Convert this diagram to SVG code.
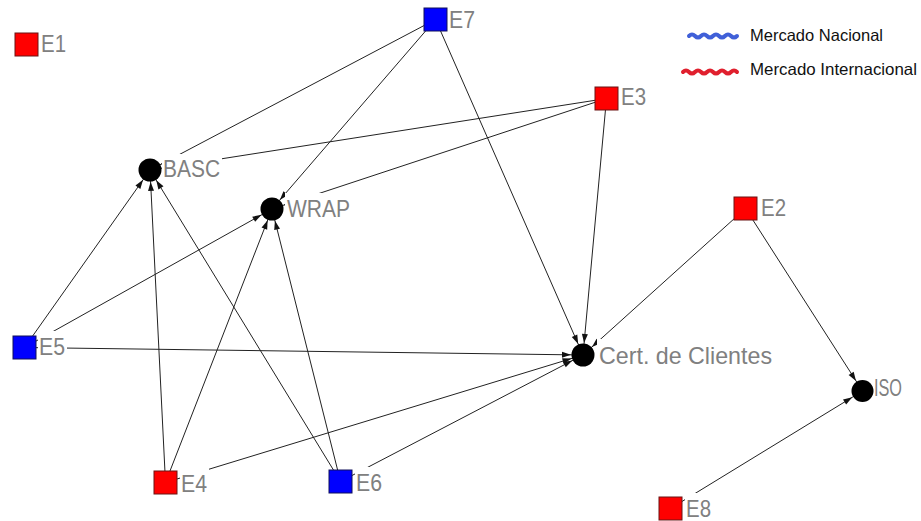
<svg xmlns="http://www.w3.org/2000/svg" width="921" height="521" viewBox="0 0 921 521">
<defs>
<marker id="arr" markerWidth="24" markerHeight="8" refX="21" refY="3" orient="auto" markerUnits="userSpaceOnUse" overflow="visible"><path d="M0,0 L9,3 L0,6 z" fill="#111"/></marker>
<style>
.e{stroke:#222;stroke-width:1;fill:none;marker-end:url(#arr)}
.bg{fill:#fff}
.red{fill:#ff0000;stroke:#6b1515;stroke-width:1}
.blue{fill:#0000ff;stroke:#10105a;stroke-width:1}
.c{fill:#000}
.t{font-family:"Liberation Sans",Arial,sans-serif;font-size:24px;fill:#808080}
.lg{font-family:"Liberation Sans",Arial,sans-serif;font-size:16.5px;fill:#111}
</style>
</defs>
<rect width="921" height="521" fill="#fff"/>
<g id="connectors">
<line class="e" x1="435.5" y1="19.5" x2="150" y2="170"/>
<line class="e" x1="435.5" y1="19.5" x2="272" y2="209"/>
<line class="e" x1="435.5" y1="19.5" x2="583" y2="355"/>
<line class="e" x1="606.5" y1="98.5" x2="150" y2="170"/>
<line class="e" x1="606.5" y1="98.5" x2="272" y2="209"/>
<line class="e" x1="606.5" y1="98.5" x2="583" y2="355"/>
<line class="e" x1="745.5" y1="208.5" x2="583" y2="355"/>
<line class="e" x1="745.5" y1="208.5" x2="862.5" y2="391"/>
<line class="e" x1="670.5" y1="508.5" x2="862.5" y2="391"/>
<line class="e" x1="24.5" y1="347.5" x2="150" y2="170"/>
<line class="e" x1="24.5" y1="347.5" x2="272" y2="209"/>
<line class="e" x1="24.5" y1="347.5" x2="583" y2="355"/>
<line class="e" x1="165.5" y1="482.5" x2="150" y2="170"/>
<line class="e" x1="165.5" y1="482.5" x2="272" y2="209"/>
<line class="e" x1="165.5" y1="482.5" x2="583" y2="355"/>
<line class="e" x1="340.5" y1="481.5" x2="150" y2="170"/>
<line class="e" x1="340.5" y1="481.5" x2="272" y2="209"/>
<line class="e" x1="340.5" y1="481.5" x2="583" y2="355"/>
</g>
<g id="E1"><rect class="bg" x="40" y="28" width="28" height="30"/><rect class="red" x="15" y="33" width="23" height="23"/><text class="t" x="41" y="52" textLength="25" lengthAdjust="spacingAndGlyphs">E1</text></g>
<g id="E7"><rect class="bg" x="448" y="4" width="29" height="30"/><rect class="blue" x="424" y="8" width="23" height="23"/><text class="t" x="449" y="28" textLength="26" lengthAdjust="spacingAndGlyphs">E7</text></g>
<g id="E3"><rect class="bg" x="620" y="81" width="28" height="30"/><rect class="red" x="595" y="87" width="23" height="23"/><text class="t" x="621" y="105" textLength="25" lengthAdjust="spacingAndGlyphs">E3</text></g>
<g id="E2"><rect class="bg" x="760" y="192" width="28" height="30"/><rect class="red" x="734" y="197" width="23" height="23"/><text class="t" x="761" y="216" textLength="25" lengthAdjust="spacingAndGlyphs">E2</text></g>
<g id="E5"><rect class="bg" x="38" y="331" width="29" height="30"/><rect class="blue" x="13" y="336" width="23" height="23"/><text class="t" x="39" y="355" textLength="26" lengthAdjust="spacingAndGlyphs">E5</text></g>
<g id="E4"><rect class="bg" x="180" y="468" width="29" height="30"/><rect class="red" x="154" y="471" width="23" height="23"/><text class="t" x="181" y="492" textLength="26" lengthAdjust="spacingAndGlyphs">E4</text></g>
<g id="E6"><rect class="bg" x="355" y="467" width="29" height="30"/><rect class="blue" x="329" y="470" width="23" height="23"/><text class="t" x="356" y="491" textLength="26" lengthAdjust="spacingAndGlyphs">E6</text></g>
<g id="E8"><rect class="bg" x="685" y="493" width="28" height="28"/><rect class="red" x="659" y="497" width="23" height="23"/><text class="t" x="686" y="517" textLength="25" lengthAdjust="spacingAndGlyphs">E8</text></g>
<g id="BASC"><rect class="bg" x="162" y="154" width="60" height="30"/><circle class="c" cx="150" cy="170" r="11.5"/><text class="t" x="163" y="177" textLength="57" lengthAdjust="spacingAndGlyphs">BASC</text></g>
<g id="WRAP"><rect class="bg" x="285" y="193" width="67" height="30"/><circle class="c" cx="272" cy="209" r="11.5"/><text class="t" x="287" y="217" textLength="63" lengthAdjust="spacingAndGlyphs">WRAP</text></g>
<g id="Cert"><rect class="bg" x="597" y="339" width="178" height="30"/><circle class="c" cx="583" cy="355" r="11.5"/><text class="t" x="599" y="364" textLength="173" lengthAdjust="spacingAndGlyphs">Cert. de Clientes</text></g>
<g id="ISO"><rect class="bg" x="873" y="373" width="33" height="29"/><circle class="c" cx="862.5" cy="391" r="11"/><text class="t" x="874" y="396" textLength="28" lengthAdjust="spacingAndGlyphs">ISO</text></g>
<g id="legend">
<path d="M689,36 q3,-3 6,0 t6,0 t6,0 t6,0 t6,0 t6,0 t6,0 t6,0" fill="none" stroke="#4060d8" stroke-width="4" stroke-linecap="round"/>
<text class="lg" x="750" y="41" textLength="133" lengthAdjust="spacingAndGlyphs">Mercado Nacional</text>
<path d="M683,72 q3,-3 6,0 t6,0 t6,0 t6,0 t6,0 t6,0 t6,0 t6,0 t6,0" fill="none" stroke="#e0202e" stroke-width="4" stroke-linecap="round"/>
<text class="lg" x="750" y="75" textLength="167" lengthAdjust="spacingAndGlyphs">Mercado Internacional</text>
</g>
</svg>
